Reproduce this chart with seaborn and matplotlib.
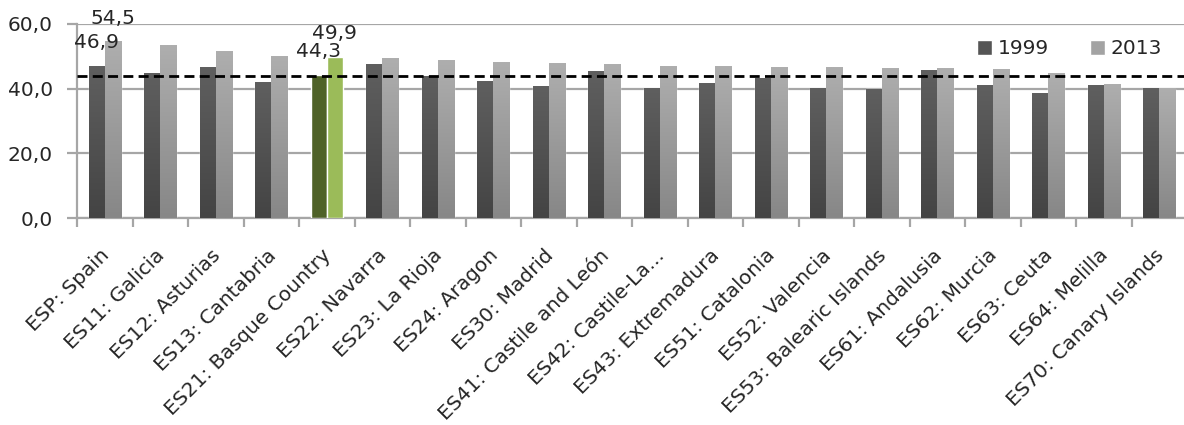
import numpy as np
import pandas as pd
import seaborn as sns
import matplotlib.pyplot as plt
from matplotlib.patches import Patch
from matplotlib.colors import LinearSegmentedColormap
from matplotlib.transforms import ScaledTranslation

regions = ['ESP: Spain', 'ES11: Galicia', 'ES12: Asturias', 'ES13: Cantabria',
           'ES21: Basque Country', 'ES22: Navarra', 'ES23: La Rioja', 'ES24: Aragon',
           'ES30: Madrid', 'ES41: Castile and León', 'ES42: Castile-La...',
           'ES43: Extremadura', 'ES51: Catalonia', 'ES52: Valencia',
           'ES53: Balearic Islands', 'ES61: Andalusia', 'ES62: Murcia', 'ES63: Ceuta',
           'ES64: Melilla', 'ES70: Canary Islands']
v1999 = [46.9, 44.6, 46.4, 41.8, 44.3, 47.4, 43.8, 42.1, 40.6, 45.2,
         40.2, 41.5, 43.0, 40.0, 39.8, 45.5, 40.9, 38.4, 40.9, 40.0]
v2013 = [54.5, 53.4, 51.5, 49.8, 49.9, 49.2, 48.6, 48.0, 47.7, 47.4,
         47.0, 47.0, 46.4, 46.4, 46.1, 46.1, 45.8, 44.6, 41.2, 40.0]
years = ['1999', '2013']
ref_line = 44.0
highlight = 'ES21: Basque Country'
labelled = ['ESP: Spain', 'ES21: Basque Country']

df = pd.DataFrame({
    'region': regions * 2,
    'year': ['1999'] * len(regions) + ['2013'] * len(regions),
    'value': v1999 + v2013,
})

sns.set_style('white')
plt.rcParams['font.family'] = ['DejaVu Sans']
plt.rcParams['font.size'] = 14.5

fig = plt.figure(figsize=(11.84, 4.25), dpi=100)
ax = fig.add_axes([77 / 1184, 1 - 218 / 425, 1110 / 1184, 194 / 425])

sns.barplot(data=df, x='region', y='value', hue='year', order=regions,
            hue_order=years, palette=['#555555', '#a0a0a0'], width=0.58,
            gap=0, dodge=True, legend=False, ax=ax, zorder=3)

# gradient fills, like the excel bars
grads = {
    '1999': LinearSegmentedColormap.from_list('g1', ['#444444', '#5f5f5f']),
    '2013': LinearSegmentedColormap.from_list('g2', ['#878787', '#aeaeae']),
}
hl_cols = {'1999': '#4f6228', '2013': '#9bbb59'}
grad = np.linspace(0, 1, 100).reshape(-1, 1)
for year, cont in zip(years, ax.containers):
    for region, bar in zip(regions, cont):
        x0, y0 = bar.get_x(), bar.get_y()
        w, h = bar.get_width(), bar.get_height()
        if region == highlight:
            bar.set_facecolor(hl_cols[year])
        else:
            ax.imshow(grad, extent=[x0, x0 + w, y0, y0 + h], origin='lower',
                      aspect='auto', cmap=grads[year], zorder=3.1)
        if region in labelled:
            ax.annotate(f'{h:.1f}'.replace('.', ','), (x0 + w / 2, h),
                        xytext=(0, 13), textcoords='offset points',
                        ha='center', va='baseline', zorder=5)

ax.axhline(ref_line, color='black', linestyle=(0, (3.6, 1.9)), linewidth=2, zorder=4)

ax.set_xlim(-0.5, len(regions) - 0.5)
ax.set_ylim(0, 60)
ax.set_yticks([0, 20, 40, 60])
ax.set_yticklabels([f'{t:.1f}'.replace('.', ',') for t in [0, 20, 40, 60]])
ax.yaxis.grid(True, color='#a6a6a6', linewidth=1.6, zorder=0)
ax.set_axisbelow(True)
ax.tick_params(axis='y', length=7.2, width=1.6, color='#a6a6a6', pad=10, left=True)

ax.set_xticks(range(len(regions)))
ax.set_xticklabels(regions, rotation=45, ha='right', va='top', rotation_mode='anchor')
ax.set_xticks(np.arange(len(regions) + 1) - 0.5, minor=True)
ax.tick_params(axis='x', which='major', length=0, pad=20)
ax.tick_params(axis='x', which='minor', length=6.5, width=1.6, color='#a6a6a6',
               bottom=True)
shift = ScaledTranslation(-5 / 100, 0, fig.dpi_scale_trans)
for lbl in ax.get_xticklabels():
    lbl.set_transform(lbl.get_transform() + shift)
ax.set_xlabel('')
ax.set_ylabel('')

for s in ['top', 'right']:
    ax.spines[s].set_visible(False)
for s in ['bottom', 'left']:
    ax.spines[s].set_color('#a6a6a6')
    ax.spines[s].set_linewidth(1.6)

handles = [Patch(facecolor='#555555'), Patch(facecolor='#a3a3a3')]
fig.legend(handles, years, loc='center left', bbox_to_anchor=(969 / 1184, 1 - 49 / 425),
           ncol=2, frameon=False, handlelength=0.75, handleheight=0.75,
           handletextpad=0.3, columnspacing=2.0, borderaxespad=0)

fig.savefig('out.png', dpi=100)
